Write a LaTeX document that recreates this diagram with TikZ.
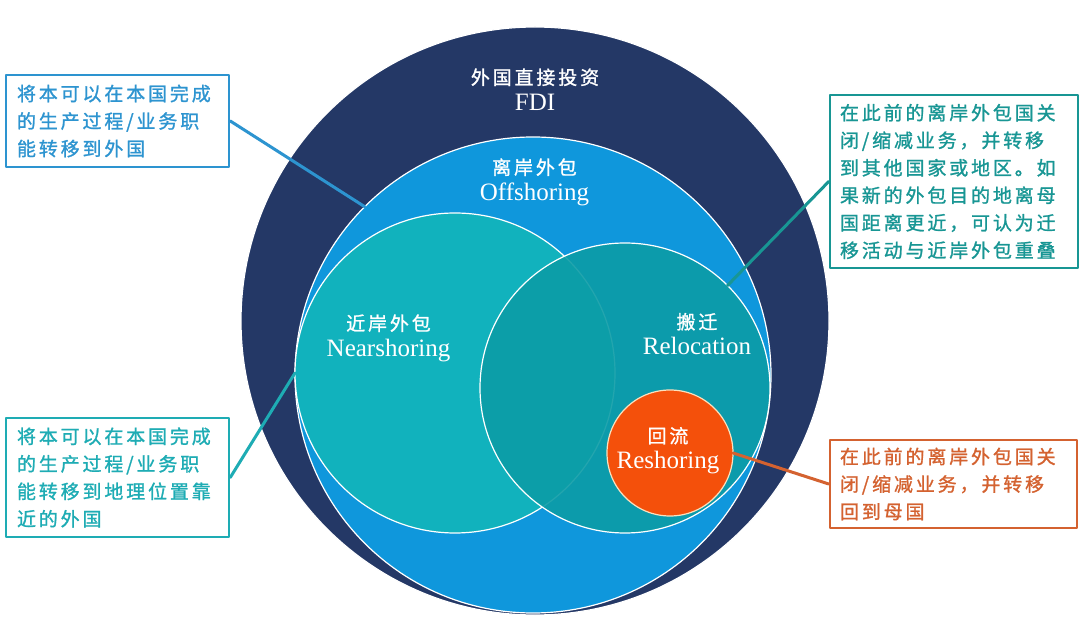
\documentclass[tikz,border=0pt]{standalone}
\usepackage{fontspec}
\setmainfont{Liberation Serif}
\newfontfamily\cjk[LetterSpace=15,FakeBold=1.2]{Noto Sans CJK SC}
\definecolor{fdinavy}{RGB}{36,56,102}
\definecolor{offblue}{RGB}{15,151,220}
\definecolor{nearteal}{RGB}{17,178,189}
\definecolor{relteal}{RGB}{12,156,166}
\definecolor{resorange}{RGB}{244,80,11}
\definecolor{rescream}{RGB}{250,225,190}
\definecolor{noteblue}{RGB}{45,148,208}
\definecolor{noteteal}{RGB}{30,172,180}
\definecolor{notegreen}{RGB}{24,150,148}
\definecolor{noteorange}{RGB}{212,98,48}
\tikzset{
  ring/.style={circle,inner sep=0pt,outer sep=0pt,draw=white,line width=1.2pt},
  zh/.style={font=\cjk\fontsize{19}{26}\selectfont,text=white,anchor=base,inner sep=0pt},
  en/.style={font=\fontsize{25}{26}\selectfont,text=white,anchor=base,inner sep=0pt},
  note/.style={draw=#1,text=#1,fill=white,line width=2.5pt,align=left,
    inner xsep=10pt,font=\cjk\fontsize{19}{27.5}\selectfont},
  link/.style={draw=#1,line width=3pt}
}
\begin{document}
\begin{tikzpicture}[x=1pt,y=-1pt,line join=round,line cap=round]
\useasboundingbox[fill=white] (0,0) rectangle (1080,617);
% nested circles
\foreach \n/\x/\y/\r/\c in {fdi/535/321/294/fdinavy,off/533/375/238/offblue,near/455/373/160/nearteal}
  \node[ring,fill=\c,minimum size=2*\r] (\n) at (\x,\y) {};
\node[ring,fill=relteal,fill opacity=.9,minimum size=290] (reloc) at (625,388) {};
\node[ring,draw=rescream,fill=resorange,minimum size=126] (resh) at (670,453) {};
% labels
\foreach \n/\x/\y/\a/\b in {fdi/535/84.5/外国直接投资/FDI,off/534.5/174.5/离岸外包/Offshoring,
    near/388.5/330.5/近岸外包/Nearshoring,reloc/697/329/搬迁/Relocation,resh/668/443/回流/Reshoring}{
  \node[zh] (zh\n) at (\x,\y) {\a};
  \node[en] (en\n) at (\x,\y+26) {\b};
}
% notes
\node[note=noteblue,text width=201pt,inner xsep=11pt,minimum height=92pt] (offnote) at (117.5,121)
  {将本可以在本国完成\\的生产过程/业务职\\能转移到外国};
\node[note=noteteal,text width=201pt,inner xsep=11pt,minimum height=119pt] (nearnote) at (117.5,477.5)
  {将本可以在本国完成\\的生产过程/业务职\\能转移到地理位置靠\\近的外国};
\node[note=notegreen,text width=228pt,minimum height=173pt] (relnote) at (954,181.5)
  {在此前的离岸外包国关\\闭/缩减业务，并转移\\到其他国家或地区。如\\果新的外包目的地离母\\国距离更近，可认为迁\\移活动与近岸外包重叠};
\node[note=noteorange,text width=227pt,minimum height=88pt] (resnote) at (953.5,484)
  {在此前的离岸外包国关\\闭/缩减业务，并转移\\回到母国};
\draw[link=noteblue] (offnote.east) -- (off.135);
\draw[link=noteteal] (nearnote.east) -- (near.west);
\draw[link=notegreen] (relnote.west) -- (reloc.45);
\draw[link=noteorange] (resh.east) -- (resnote.west);
\end{tikzpicture}
\end{document}
